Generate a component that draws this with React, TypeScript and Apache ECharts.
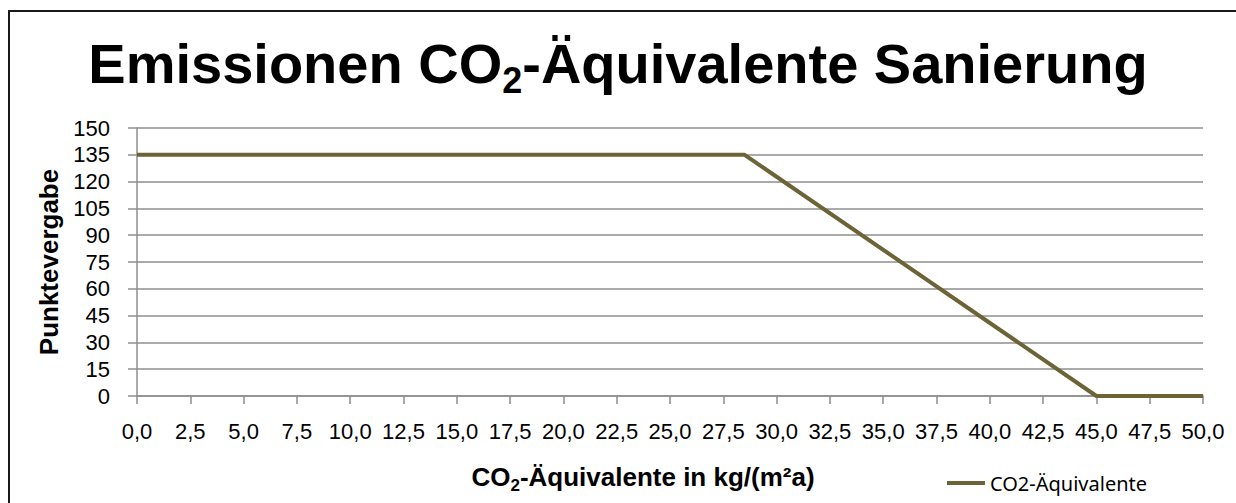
import React, { useEffect, useRef } from "react";
import * as echarts from "echarts";

const seriesName = "CO2-Äquivalente";
const curveX = [0, 28.5, 45, 50];
const curveY = [135, 135, 0, 0];
const xMin = 0;
const xMax = 50;
const xStep = 2.5;
const yMin = 0;
const yMax = 150;
const yStep = 15;
const titleParts = ["Emissionen CO", "2", "-Äquivalente Sanierung"];
const xNameParts = ["CO", "2", "-Äquivalente in kg/(m²a)"];
const yName = "Punktevergabe";

const LINE_COLOR = "#6c6336";
const GRID_COLOR = "#8e8e8e";
const BOLD_FONT = "'Liberation Sans', Arial, sans-serif";
const TICK_FONT = "'Liberation Sans', Arial, sans-serif";
const LEGEND_FONT = "'Noto Sans', sans-serif";

export default function App() {
  const ref = useRef<HTMLDivElement>(null);
  useEffect(() => {
    if (!ref.current) return;
    const chart = echarts.init(ref.current, null, { renderer: "svg" });
    const data = curveX.map((x, i) => [x, curveY[i]]);
    chart.setOption({
      animation: false,
      backgroundColor: "#ffffff",
      grid: { left: 137, right: 33, top: 128, bottom: 107, containLabel: false },
      legend: {
        show: true,
        left: 942,
        top: 467,
        icon: "rect",
        itemWidth: 38,
        itemHeight: 4,
        itemGap: 6,
        textStyle: { fontFamily: LEGEND_FONT, fontSize: 20, lineHeight: 22, color: "#000" },
        data: [seriesName],
      },
      xAxis: {
        type: "value",
        min: xMin,
        max: xMax,
        interval: xStep,
        axisLine: { show: true, lineStyle: { color: GRID_COLOR, width: 1.5 } },
        axisTick: { show: true, inside: false, length: 8, lineStyle: { color: GRID_COLOR, width: 1.5 } },
        axisLabel: {
          margin: 23,
          fontFamily: TICK_FONT,
          fontSize: 22,
          lineHeight: 24,
          color: "#000",
          formatter: (v: number) => v.toFixed(1).replace(".", ","),
        },
        splitLine: { show: false },
      },
      yAxis: {
        type: "value",
        min: yMin,
        max: yMax,
        interval: yStep,
        axisLine: { show: true, lineStyle: { color: GRID_COLOR, width: 1.5 } },
        axisTick: { show: true, inside: false, length: 9, lineStyle: { color: GRID_COLOR, width: 1.5 } },
        axisLabel: {
          margin: 27,
          fontFamily: TICK_FONT,
          fontSize: 22,
          lineHeight: 24,
          color: "#000",
        },
        splitLine: { show: true, lineStyle: { color: GRID_COLOR, width: 1.5 } },
      },
      series: [
        {
          name: seriesName,
          type: "line",
          data,
          showSymbol: false,
          symbol: "none",
          lineStyle: { color: LINE_COLOR, width: 4 },
          itemStyle: { color: LINE_COLOR },
          z: 5,
        },
      ],
      graphic: [
        {
          type: "rect",
          shape: { x: 9, y: 11, width: 1400, height: 700 },
          style: { fill: "none", stroke: "#1a1a1a", lineWidth: 2 },
          silent: true,
        },
        {
          type: "text",
          x: 618,
          y: 63,
          style: {
            text: `{a|${titleParts[0]}}{s|${titleParts[1]}}{a|${titleParts[2]}}`,
            align: "center",
            verticalAlign: "middle",
            rich: {
              a: { fontFamily: BOLD_FONT, fontWeight: "bold", fontSize: 56, lineHeight: 70, fill: "#000" },
              s: { fontFamily: BOLD_FONT, fontWeight: "bold", fontSize: 36, lineHeight: 36, verticalAlign: "bottom", fill: "#000" },
            },
          },
        },
        {
          type: "text",
          x: 643,
          y: 477,
          style: {
            text: `{a|${xNameParts[0]}}{s|${xNameParts[1]}}{a|${xNameParts[2]}}`,
            align: "center",
            verticalAlign: "middle",
            rich: {
              a: { fontFamily: BOLD_FONT, fontWeight: "bold", fontSize: 26, lineHeight: 34, fill: "#000" },
              s: { fontFamily: BOLD_FONT, fontWeight: "bold", fontSize: 17, lineHeight: 17, verticalAlign: "bottom", fill: "#000" },
            },
          },
        },
        {
          type: "text",
          x: 49,
          y: 262,
          rotation: Math.PI / 2,
          style: {
            text: yName,
            align: "center",
            verticalAlign: "middle",
            fontFamily: BOLD_FONT,
            fontWeight: "bold",
            fontSize: 26,
            lineHeight: 28,
            fill: "#000",
          },
        },
      ],
    });
    return () => chart.dispose();
  }, []);
  return (
    <div
      ref={ref}
      style={{ position: "fixed", left: 0, top: 0, width: 1236, height: 503 }}
    />
  );
}
